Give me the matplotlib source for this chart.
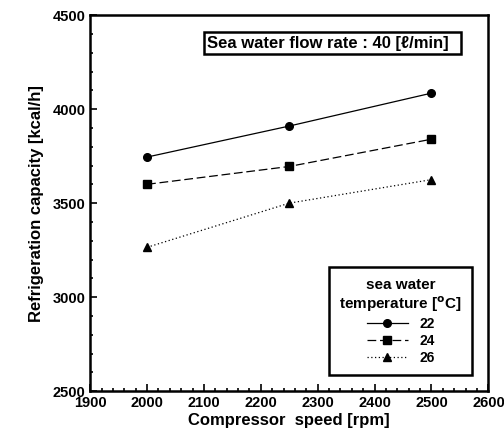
import matplotlib.pyplot as plt
from matplotlib.ticker import MultipleLocator

speed = [2000, 2250, 2500]
cap_22 = [3745, 3910, 4085]
cap_24 = [3600, 3695, 3840]
cap_26 = [3265, 3500, 3625]
labels = ['22', '24', '26']

plt.rcParams['font.family'] = 'Liberation Sans'
plt.rcParams['font.weight'] = 'bold'

fig = plt.figure(figsize=(5.04, 4.44), dpi=100)
ax = fig.add_axes([0.179, 0.119, 0.79, 0.847])

ax.plot(speed, cap_22, '-', color='black', lw=0.9, marker='o', ms=5.5, label=labels[0])
ax.plot(speed, cap_24, color='black', lw=0.9, ls=(0, (7, 3)), marker='s', ms=5.5, label=labels[1])
ax.plot(speed, cap_26, color='black', lw=0.9, ls=(0, (1, 2)), marker='^', ms=6, label=labels[2])

ax.set_xlim(1900, 2600)
ax.set_ylim(2500, 4500)
ax.xaxis.set_major_locator(MultipleLocator(100))
ax.xaxis.set_minor_locator(MultipleLocator(20))
ax.yaxis.set_major_locator(MultipleLocator(500))
ax.yaxis.set_minor_locator(MultipleLocator(100))
ax.tick_params(which='both', direction='in', width=1.2, labelsize=10.5)
ax.tick_params(which='major', length=5)
ax.tick_params(which='minor', length=2.5)
for s in ax.spines.values():
    s.set_linewidth(1.8)

ax.set_xlabel('Compressor  speed [rpm]', fontsize=12, fontweight='bold', labelpad=2)
ax.set_ylabel('Refrigeration capacity [kcal/h]', fontsize=12, fontweight='bold', labelpad=6)

ax.text(0.293, 0.925, 'Sea water flow rate : 40 [ℓ/min]  ', transform=ax.transAxes,
        fontsize=12, fontweight='bold', va='center', ha='left',
        bbox=dict(boxstyle='square,pad=0.2', fc='white', ec='black', lw=1.8))

leg = ax.legend(title='sea water\ntemperature [$\\mathbf{^{o}}$C]', loc='lower right',
                bbox_to_anchor=(0.96, 0.043), borderaxespad=0, fancybox=False,
                edgecolor='black', framealpha=1, fontsize=10, title_fontsize=11,
                handlelength=3.0, labelspacing=0.2, borderpad=0.75)
leg.get_frame().set_linewidth(1.8)
leg.get_title().set_fontweight('bold')
leg.get_title().set_multialignment('center')

plt.savefig('out.png', dpi=100)
